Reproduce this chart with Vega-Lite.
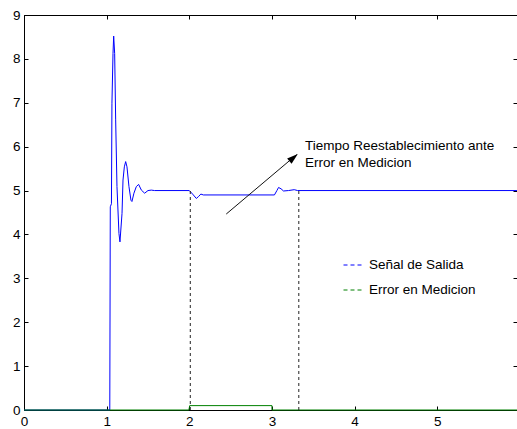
{
  "$schema": "https://vega.github.io/schema/vega-lite/v6.json",
  "autosize": {"type": "none"},
  "width": 493,
  "height": 395,
  "padding": {"left": 24, "top": 15, "right": 0, "bottom": 19},
  "background": "#ffffff",
  "config": {
    "view": {"stroke": "#000000", "strokeWidth": 1},
    "axis": {
      "grid": false, "title": null, "zindex": 0,
      "domainColor": "#000000", "tickColor": "#000000", "labelColor": "#000000",
      "labelFont": "Liberation Sans", "labelFontSize": 13.5,
      "tickSize": -4, "labelPadding": 8, "labelFlush": false, "labelOverlap": false,
      "format": "d"
    },
    "text": {"font": "Liberation Sans"}
  },
  "datasets": {
    "salida": [
      {"t": 0, "v": 0, "serie": "Señal de Salida"},
      {"t": 1.038, "v": 0, "serie": "Señal de Salida"},
      {"t": 1.044, "v": 4.63, "serie": "Señal de Salida"},
      {"t": 1.058, "v": 4.7, "serie": "Señal de Salida"},
      {"t": 1.064, "v": 6.99, "serie": "Señal de Salida"},
      {"t": 1.077, "v": 8.12, "serie": "Señal de Salida"},
      {"t": 1.085, "v": 8.52, "serie": "Señal de Salida"},
      {"t": 1.097, "v": 8.12, "serie": "Señal de Salida"},
      {"t": 1.109, "v": 6.61, "serie": "Señal de Salida"},
      {"t": 1.125, "v": 5.09, "serie": "Señal de Salida"},
      {"t": 1.149, "v": 4.02, "serie": "Señal de Salida"},
      {"t": 1.161, "v": 3.83, "serie": "Señal de Salida"},
      {"t": 1.186, "v": 4.48, "serie": "Señal de Salida"},
      {"t": 1.198, "v": 5.24, "serie": "Señal de Salida"},
      {"t": 1.214, "v": 5.54, "serie": "Señal de Salida"},
      {"t": 1.23, "v": 5.66, "serie": "Señal de Salida"},
      {"t": 1.246, "v": 5.54, "serie": "Señal de Salida"},
      {"t": 1.27, "v": 5.09, "serie": "Señal de Salida"},
      {"t": 1.294, "v": 4.78, "serie": "Señal de Salida"},
      {"t": 1.306, "v": 4.75, "serie": "Señal de Salida"},
      {"t": 1.33, "v": 4.94, "serie": "Señal de Salida"},
      {"t": 1.359, "v": 5.09, "serie": "Señal de Salida"},
      {"t": 1.387, "v": 5.14, "serie": "Señal de Salida"},
      {"t": 1.42, "v": 5.01, "serie": "Señal de Salida"},
      {"t": 1.46, "v": 4.94, "serie": "Señal de Salida"},
      {"t": 1.5, "v": 5.0, "serie": "Señal de Salida"},
      {"t": 1.54, "v": 5.01, "serie": "Señal de Salida"},
      {"t": 1.58, "v": 5.0, "serie": "Señal de Salida"},
      {"t": 2.0, "v": 5.0, "serie": "Señal de Salida"},
      {"t": 2.04, "v": 4.92, "serie": "Señal de Salida"},
      {"t": 2.085, "v": 4.82, "serie": "Señal de Salida"},
      {"t": 2.11, "v": 4.86, "serie": "Señal de Salida"},
      {"t": 2.14, "v": 4.92, "serie": "Señal de Salida"},
      {"t": 2.17, "v": 4.9, "serie": "Señal de Salida"},
      {"t": 3.03, "v": 4.9, "serie": "Señal de Salida"},
      {"t": 3.06, "v": 5.0, "serie": "Señal de Salida"},
      {"t": 3.08, "v": 5.07, "serie": "Señal de Salida"},
      {"t": 3.11, "v": 5.04, "serie": "Señal de Salida"},
      {"t": 3.14, "v": 4.99, "serie": "Señal de Salida"},
      {"t": 3.2, "v": 5.0, "serie": "Señal de Salida"},
      {"t": 3.27, "v": 5.02, "serie": "Señal de Salida"},
      {"t": 3.31, "v": 5.0, "serie": "Señal de Salida"},
      {"t": 6.0, "v": 5.0, "serie": "Señal de Salida"}
    ],
    "error": [
      {"t": 0, "v": 0, "serie": "Error en Medicion"},
      {"t": 1.995, "v": 0, "serie": "Error en Medicion"},
      {"t": 2.005, "v": 0.1, "serie": "Error en Medicion"},
      {"t": 3.0, "v": 0.1, "serie": "Error en Medicion"},
      {"t": 3.0, "v": 0, "serie": "Error en Medicion"},
      {"t": 6.0, "v": 0, "serie": "Error en Medicion"}
    ],
    "punteadas": [
      {"t": 2.012, "y0": 0, "y1": 5.0},
      {"t": 3.325, "y0": 0, "y1": 5.0}
    ],
    "flecha": [
      {"x": 2.447, "y": 4.465, "x2": 3.3, "y2": 5.82}
    ],
    "punta": [
      {"x": 3.249, "y": 5.731}
    ],
    "textos": [
      {"x": 3.4, "y": 6.01, "texto": "Tiempo Reestablecimiento ante"},
      {"x": 3.4, "y": 5.63, "texto": "Error en Medicion"}
    ]
  },
  "layer": [
    {
      "layer": [
        {
          "data": {"name": "salida"},
          "mark": {"type": "line", "strokeWidth": 1, "interpolate": "linear"},
          "encoding": {
            "x": {"field": "t", "type": "quantitative", "scale": {"domain": [0, 5.965], "nice": false, "zero": false},
                  "axis": {"values": [0, 1, 2, 3, 4, 5, 6]}},
            "y": {"field": "v", "type": "quantitative", "scale": {"domain": [0, 9], "nice": false},
                  "axis": {"values": [0, 1, 2, 3, 4, 5, 6, 7, 8, 9]}},
            "color": {
              "field": "serie", "type": "nominal",
              "scale": {"domain": ["Señal de Salida", "Error en Medicion"], "range": ["#0000ff", "#008000"]},
              "legend": {
                "title": null, "orient": "none", "legendX": 319, "legendY": 240,
                "symbolType": "stroke", "symbolSize": 361, "symbolDash": [4, 3], "symbolStrokeWidth": 1,
                "labelFont": "Liberation Sans", "labelFontSize": 13.5, "labelColor": "#000000",
                "rowPadding": 8, "labelOffset": 6, "padding": 0
              }
            }
          }
        },
        {
          "data": {"name": "error"},
          "mark": {"type": "line", "strokeWidth": 1},
          "encoding": {
            "x": {"field": "t", "type": "quantitative", "scale": {"domain": [0, 5.965], "nice": false, "zero": false}},
            "y": {"field": "v", "type": "quantitative", "scale": {"domain": [0, 9], "nice": false}},
            "color": {"field": "serie", "type": "nominal"}
          }
        },
        {
          "data": {"name": "punteadas"},
          "mark": {"type": "rule", "color": "#222222", "strokeWidth": 1, "strokeDash": [3, 3]},
          "encoding": {
            "x": {"field": "t", "type": "quantitative"},
            "y": {"field": "y0", "type": "quantitative"},
            "y2": {"field": "y1"}
          }
        },
        {
          "data": {"name": "flecha"},
          "mark": {"type": "rule", "color": "#111111", "strokeWidth": 1},
          "encoding": {
            "x": {"field": "x", "type": "quantitative"},
            "y": {"field": "y", "type": "quantitative"},
            "x2": {"field": "x2"},
            "y2": {"field": "y2"}
          }
        },
        {
          "data": {"name": "punta"},
          "mark": {"type": "point", "shape": "M0,-1L0.5,0.6L-0.5,0.6Z", "filled": true, "color": "#000000", "opacity": 1, "size": 190, "angle": 50},
          "encoding": {
            "x": {"field": "x", "type": "quantitative"},
            "y": {"field": "y", "type": "quantitative"}
          }
        },
        {
          "data": {"name": "textos"},
          "mark": {"type": "text", "align": "left", "baseline": "middle", "fontSize": 13.5, "color": "#000000", "font": "Liberation Sans"},
          "encoding": {
            "x": {"field": "x", "type": "quantitative"},
            "y": {"field": "y", "type": "quantitative"},
            "text": {"field": "texto"}
          }
        }
      ]
    },
    {
      "data": {"name": "salida"},
      "mark": {"type": "point", "opacity": 0, "clip": true},
      "encoding": {
        "x": {"field": "t", "type": "quantitative", "scale": {"domain": [0, 5.965], "nice": false, "zero": false},
              "axis": {"orient": "top", "labels": false, "domain": false, "values": [0, 1, 2, 3, 4, 5]}},
        "y": {"field": "v", "type": "quantitative", "scale": {"domain": [0, 9], "nice": false},
              "axis": {"orient": "right", "labels": false, "domain": false, "values": [0, 1, 2, 3, 4, 5, 6, 7, 8, 9]}}
      }
    }
  ],
  "resolve": {"axis": {"x": "independent", "y": "independent"}}
}
